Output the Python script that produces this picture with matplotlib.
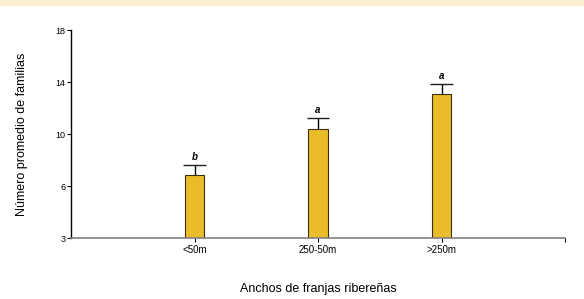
import matplotlib
matplotlib.use("Agg")
import matplotlib.pyplot as plt
import numpy as np

plt.rcParams['font.family'] = ['Liberation Sans', 'DejaVu Sans']

categories = ['<50m', '250-50m', '>250m']
means = [6.85, 10.38, 13.08]
errors = [0.77, 0.85, 0.77]
letters = ['b', 'a', 'a']
yticks = [3, 6, 10, 14, 18]


# axis is compressed below 6: the 3-6 segment takes the same room as 4 units
def fwd(y):
    y = np.asarray(y, dtype=float)
    return np.where(y < 6, 6 - (6 - y) * 4 / 3, y)


def inv(y):
    y = np.asarray(y, dtype=float)
    return np.where(y < 6, 6 - (6 - y) * 3 / 4, y)


fig = plt.figure(figsize=(5.84, 2.99), dpi=100)
fig.patches.append(plt.Rectangle((0, 1 - 5 / 299), 1, 5 / 299, transform=fig.transFigure,
                                 color='#FFEFD2', zorder=0))
ax = fig.add_axes([71 / 584, 61 / 299, 494 / 584, 208 / 299])
ax.set_yscale('function', functions=(fwd, inv))

x = np.arange(1, len(categories) + 1)
base = 3
bw = 0.16
ax.bar(x, [m - base for m in means], bottom=base, width=bw, color='#EBBC2A',
       edgecolor='#3a2e10', linewidth=0.8, zorder=2)
# upper error bars only
tops = [m + e for m, e in zip(means, errors)]
ax.vlines(x, means, tops, color='black', linewidth=1, zorder=1)
ax.hlines(tops, x - bw / 2 - 0.01, x + bw / 2 + 0.01, color='#202020', linewidth=1, zorder=1)
for xi, t, lab in zip(x, tops, letters):
    ax.text(xi, t + 0.25, lab, ha='center', va='bottom', fontsize=7, fontweight='bold',
            fontstyle='italic')

ax.set_xlim(0, 4)
ax.set_ylim(3, 18)
ax.set_yticks(yticks)
ax.set_yticklabels([str(t) for t in yticks], fontsize=6.5)
ax.set_xticks(x)
ax.set_xticklabels(categories, fontsize=7)
ax.set_xticks([4], minor=True)
ax.tick_params(axis='y', length=3, width=0.8, pad=1)
ax.tick_params(axis='x', which='both', length=3, width=0.8, pad=2, color='black')
ax.spines['top'].set_visible(False)
ax.spines['right'].set_visible(False)
ax.spines['left'].set_linewidth(1)
ax.spines['bottom'].set_color('#808080')
ax.spines['bottom'].set_linewidth(1.2)

ax.set_ylabel('Número promedio de familias', fontsize=9, labelpad=20)
ax.set_xlabel('Anchos de franjas ribereñas', fontsize=9, labelpad=20)

fig.savefig('out.png', dpi=100)
